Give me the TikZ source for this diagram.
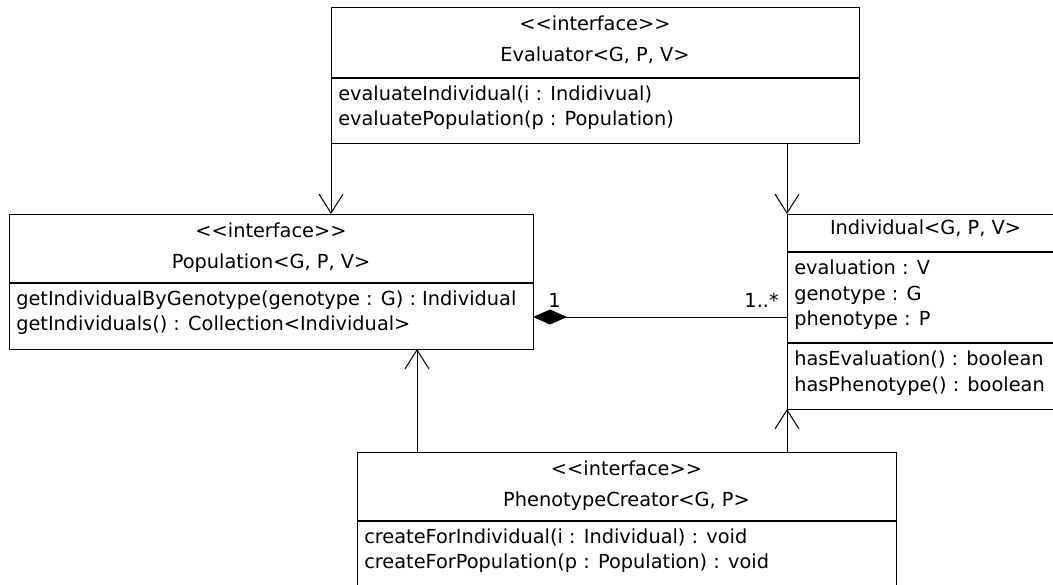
\documentclass[tikz,border=0pt]{standalone}
\usepackage{fontspec}
\setmainfont{DejaVu Sans}
\usetikzlibrary{arrows.meta,calc}
% stereotype text; the kerns keep << and >> from turning into guillemets
\newcommand\umlinterface{<\kern0pt<interface>\kern0pt>}
\begin{document}
\begin{tikzpicture}[x=0.75pt,y=-0.75pt,
  umlbox/.style={draw, line width=0.75pt, inner sep=0pt, outer sep=0pt, anchor=north west},
  divider/.style={line width=1.5pt},
  umltext/.style={inner sep=0pt, font=\fontsize{14.5}{17}\selectfont},
  title/.style={umltext, anchor=base},
  member/.style={umltext, anchor=base west},
  mult/.style={umltext},
  uses/.style={line width=0.75pt, -{Straight Barb[length=14.25pt,width=18pt,line width=0.75pt]}},
  composite/.style={line width=0.75pt, -{Diamond[length=25.5pt,width=11.25pt,fill=black]}},
]
\clip (0,0) rectangle (1053,585);
\fill[white] (0,0) rectangle (1053,585);

% ---------- class frames ----------
\node[umlbox, minimum width=396pt,    minimum height=101.25pt] (eval) at (331,8)   {};
\node[umlbox, minimum width=393pt,    minimum height=101.25pt] (pop)  at (9,214)   {};
\node[umlbox, minimum width=207.75pt, minimum height=146.25pt] (ind)  at (787,214) {};
\node[umlbox, minimum width=404.25pt, minimum height=101.25pt] (pc)   at (357,452) {};

% ---------- compartment dividers ----------
\draw[divider] ($(eval.north west)+(0,70)$) -- ($(eval.north east)+(0,70)$);
\draw[divider] ($(pop.north west)+(0,69)$)  -- ($(pop.north east)+(0,69)$);
\draw[divider] ($(ind.north west)+(0,38)$)  -- ($(ind.north east)+(0,38)$);
\draw[divider] ($(ind.north west)+(0,129)$) -- ($(ind.north east)+(0,129)$);
\draw[divider] ($(pc.north west)+(0,69)$)   -- ($(pc.north east)+(0,69)$);

% ---------- Evaluator ----------
\node[title] (evalS) at ($(eval.north)+(0,23)$) {\umlinterface};
\node[title] (evalN) at ($(eval.north)+(0,54)$) {Evaluator<G, P, V>};
\node[member] (evalM1) at ($(eval.north west)+(7,92)$)  {evaluateIndividual(i : Indidivual)};
\node[member] (evalM2) at ($(eval.north west)+(7,117)$) {evaluatePopulation(p : Population)};

% ---------- Population ----------
\node[title] (popS) at ($(pop.north)+(0,23)$) {\umlinterface};
\node[title] (popN) at ($(pop.north)+(0,54)$) {Population<G, P, V>};
\node[member] (popM1) at ($(pop.north west)+(7,91)$)  {getIndividualByGenotype(genotype : G) : Individual};
\node[member] (popM2) at ($(pop.north west)+(7,116)$) {getIndividuals() : Collection<Individual>};

% ---------- Individual ----------
\node[title] (indN) at ($(ind.north)+(0,20)$) {Individual<G, P, V>};
\node[member] (indA1) at ($(ind.north west)+(7,60)$)  {evaluation : V};
\node[member] (indA2) at ($(ind.north west)+(7,86)$)  {genotype : G};
\node[member] (indA3) at ($(ind.north west)+(7,111)$) {phenotype : P};
\node[member] (indM1) at ($(ind.north west)+(7,151)$) {hasEvaluation() : boolean};
\node[member] (indM2) at ($(ind.north west)+(7,177)$) {hasPhenotype() : boolean};

% ---------- PhenotypeCreator ----------
\node[title] (pcS) at ($(pc.north)+(0,23)$) {\umlinterface};
\node[title] (pcN) at ($(pc.north)+(0,54)$) {PhenotypeCreator<G, P>};
\node[member] (pcM1) at ($(pc.north west)+(7,91)$)  {createForIndividual(i : Individual) : void};
\node[member] (pcM2) at ($(pc.north west)+(7,116)$) {createForPopulation(p : Population) : void};

% ---------- dependencies ----------
\draw[uses] (eval.south west) -- (eval.south west |- pop.north);
\draw[uses] (ind.north west |- eval.south) -- (ind.north west);
\coordinate (pcL) at ($(pc.north west)+(60,0)$);
\draw[uses] (pcL) -- (pcL |- pop.south);
\draw[uses] (ind.south west |- pc.north) -- (ind.south west);

% ---------- composition Population <>-- Individual ----------
\coordinate (assoc) at ($(pop.south east)+(0,-32)$);
\draw[composite] (ind.west |- assoc) -- (assoc);
\node[mult, anchor=base west] (multPop) at ($(assoc)+(15,-10)$) {1};
\node[mult, anchor=base east] (multInd) at ($(ind.west |- assoc)+(-8,-10)$) {1..*};
\end{tikzpicture}
\end{document}
